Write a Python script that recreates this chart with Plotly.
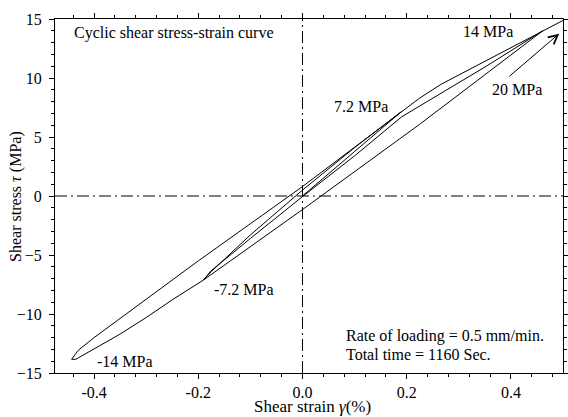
import plotly.graph_objects as go

# ---- data (shear strain in %, shear stress in MPa) ----
# loading path, in order
virgin_strain = [0.0, 0.06, 0.13, 0.19]
virgin_stress = [0.0, 2.3, 4.9, 7.15]

unload_7_strain = [0.19, 0.10, 0.0, -0.10, -0.175, -0.19]
unload_7_stress = [7.15, 4.1, 0.5, -3.3, -6.4, -7.12]

reload_14_strain = [-0.19, -0.176, -0.10, 0.0, 0.10, 0.19, 0.225, 0.3525, 0.461]
reload_14_stress = [-7.12, -6.36, -3.6, -0.05, 3.4, 6.7, 7.63, 10.99, 14.0]

unload_14_strain = [0.461, 0.3525, 0.225, 0.0, -0.19, -0.25, -0.30, -0.35, -0.40, -0.435, -0.443]
unload_14_stress = [14.0, 10.36, 6.08, -1.15, -7.12, -8.8, -10.3, -11.7, -13.0, -13.84, -13.84]

reload_20_strain = [-0.443, -0.431, -0.40, -0.20, 0.0, 0.225, 0.266, 0.461, 0.50, 0.54]
reload_20_stress = [-13.84, -13.1, -12.0, -5.5, 0.8, 8.3, 9.47, 14.0, 14.9, 15.8]

branches_strain = [virgin_strain, unload_7_strain, reload_14_strain, unload_14_strain, reload_20_strain]
branches_stress = [virgin_stress, unload_7_stress, reload_14_stress, unload_14_stress, reload_20_stress]

strain = [v for b in branches_strain for v in b]
stress = [v for b in branches_stress for v in b]

x_ticks = [-0.4, -0.2, 0.0, 0.2, 0.4]
x_tick_labels = ["-0.4", "-0.2", "0.0", "0.2", "0.4"]
y_ticks = [-15, -10, -5, 0, 5, 10, 15]

FONT = "Liberation Serif"

fig = go.Figure()
fig.add_trace(go.Scatter(x=strain, y=stress, mode="lines",
                         line=dict(color="black", width=1), showlegend=False,
                         hoverinfo="skip"))

# zero reference lines (dash-dot)
fig.add_shape(type="line", xref="x", yref="paper", x0=0, x1=0, y0=0, y1=1,
              line=dict(color="black", width=1, dash="12px,4px,2px,4px"))
fig.add_shape(type="line", xref="paper", yref="y", x0=0, x1=1, y0=0, y1=0,
              line=dict(color="black", width=1, dash="12px,4px,2px,4px"))

axis_common = dict(showgrid=False, zeroline=False, showline=True, linecolor="black",
                   linewidth=1, mirror="ticks", ticks="outside", ticklen=5,
                   tickcolor="black", tickwidth=1,
                   tickfont=dict(family=FONT, size=16, color="black"))

fig.update_xaxes(range=[-0.475, 0.5], tickvals=x_ticks, ticktext=x_tick_labels,
                 minor=dict(dtick=0.04, tick0=0, ticks="outside", ticklen=3,
                            tickcolor="black", showgrid=False),
                 ticklabelstandoff=0,
                 **axis_common)
fig.update_yaxes(range=[-15, 15], tickvals=y_ticks,
                 minor=dict(dtick=1, tick0=0, ticks="outside", ticklen=3,
                            tickcolor="black", showgrid=False),
                 ticklabelstandoff=4,
                 **axis_common)

ann_font = dict(family=FONT, size=16, color="black")

# axis titles
fig.add_annotation(xref="paper", yref="paper", x=0.507, y=-0.094,
                   text="Shear strain <i>γ</i>(%)", showarrow=False,
                   xanchor="center", yanchor="middle",
                   font=dict(family=FONT, size=17, color="black"))
fig.add_annotation(xref="paper", yref="paper", x=-0.077, y=0.5,
                   text="Shear stress <i>τ</i> (MPa)", showarrow=False,
                   textangle=-90, xanchor="center", yanchor="middle", font=ann_font)

labels = [
    ("Cyclic shear stress-strain curve", -0.443, 13.8, "left"),
    ("14 MPa", 0.357, 13.98, "center"),
    ("20 MPa", 0.4125, 9.04, "center"),
    ("7.2 MPa", 0.113, 7.56, "center"),
    ("-7.2 MPa", -0.1115, -7.9, "center"),
    ("-14 MPa", -0.341, -14.05, "center"),
    ("Rate of loading = 0.5 mm/min.", 0.0797, -11.86, "left"),
    ("Total time = 1160 Sec.", 0.0797, -13.42, "left"),
]
for text, x, y, anchor in labels:
    fig.add_annotation(x=x, y=y, text=text, showarrow=False, xanchor=anchor,
                       yanchor="middle", font=ann_font)

# arrow for 20 MPa
fig.add_annotation(x=0.4927, y=13.76, ax=0.394, ay=10.03, axref="x", ayref="y",
                   text="", showarrow=True, arrowhead=5, arrowsize=1.8,
                   arrowwidth=1, arrowcolor="black")

fig.update_layout(width=568, height=417,
                  margin=dict(l=55, r=5, t=19, b=44, autoexpand=False),
                  plot_bgcolor="white", paper_bgcolor="white",
                  font=dict(family=FONT, size=16, color="black"))

fig.write_html("out.html", config={"displayModeBar": False},
               post_script="document.body.style.margin='0';")
